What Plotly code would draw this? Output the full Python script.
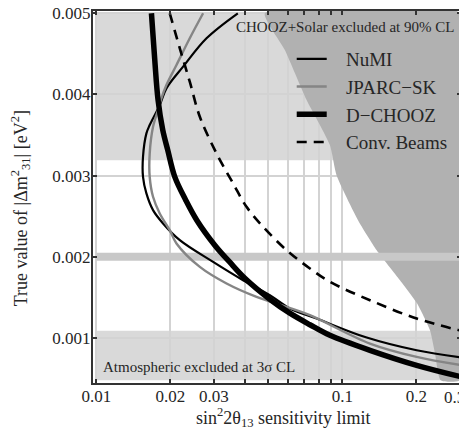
import math
import plotly.graph_objects as go

# ---------------- data ----------------
numi_x = [0.03757, 0.02803, 0.02251, 0.01926, 0.01809, 0.01647, 0.01597, 0.01547, 0.01547,
          0.01597, 0.01699, 0.01866, 0.02183, 0.02981, 0.03947, 0.05070, 0.06114, 0.07852,
          0.1255, 0.2004, 0.3063]
numi_y = [0.005, 0.004692, 0.004342, 0.004075, 0.003869, 0.003623, 0.003520, 0.003232, 0.002985,
          0.002781, 0.002575, 0.002411, 0.002205, 0.001937, 0.001711, 0.001527, 0.001363, 0.001239,
          0.001005, 0.000848, 0.000758]

jparc_x = [0.02715, 0.02396, 0.02116, 0.01926, 0.01838, 0.01781, 0.01699, 0.01647, 0.01647,
           0.01699, 0.01809, 0.01987, 0.02116, 0.02633, 0.03381, 0.04477, 0.05929, 0.07376,
           0.1294, 0.2004, 0.3063]
jparc_y = [0.005, 0.004692, 0.004363, 0.004116, 0.003952, 0.003808, 0.003602, 0.003274, 0.002985,
           0.002739, 0.002534, 0.002328, 0.002164, 0.001875, 0.001671, 0.001506, 0.001382, 0.00128,
           0.000931, 0.000766, 0.000663]

dchooz_x = [0.01674, 0.01727, 0.01781, 0.01861, 0.01950, 0.02083, 0.02308, 0.02559, 0.03029,
            0.03486, 0.04012, 0.05070, 0.06114, 0.07376, 0.08895, 0.1294, 0.2004, 0.3063]
dchooz_y = [0.005, 0.004424, 0.003931, 0.003561, 0.003314, 0.002985, 0.002698, 0.002451, 0.002143,
            0.001933, 0.001736, 0.001477, 0.001305, 0.001163, 0.001033, 0.000848, 0.000663, 0.000519]

conv_x = [0.01987, 0.02183, 0.02396, 0.02633, 0.03077, 0.03595, 0.04076, 0.04762, 0.05929,
          0.07376, 0.08895, 0.1294, 0.2004, 0.3063]
conv_y = [0.005, 0.004568, 0.004157, 0.003725, 0.003274, 0.002904, 0.002615, 0.002369, 0.002081,
          0.001856, 0.001691, 0.001465, 0.001239, 0.001086]

# CHOOZ+Solar excluded region (boundary, then right edge)
chooz_solar_x = [0.04839, 0.05835, 0.07153, 0.08895, 0.09471, 0.1157, 0.1378, 0.1714, 0.2010,
                 0.2270, 0.2379, 0.2508, 0.3, 0.3, 0.04839]
chooz_solar_y = [0.005, 0.004547, 0.003931, 0.003376, 0.003, 0.002451, 0.002081, 0.001711, 0.001428,
                 0.001095, 0.000808, 0.00048, 0.00048, 0.005, 0.005]

# shaded bands: [x0, x1, y0, y1]
upper_band = [0.01, 0.3, 0.00319, 0.005]
atmos_band = [0.01, 0.3, 0.00048, 0.00109]
mid_band_x = [0.01, 0.3]
mid_band_y = [0.002, 0.002]

x_tickvals = [0.01, 0.02, 0.03, 0.1, 0.2]
x_ticktext = ['0.01', '0.02', '0.03', '0.1', '0.2']
x_edge_tick = 0.3          # last decade tick, its label is drawn nudged inside the page
x_edge_text = '0.3'
x_minor_vals = [0.04, 0.05, 0.06, 0.07, 0.08, 0.09, 0.3]
y_tickvals = [0.001, 0.002, 0.003, 0.004, 0.005]
y_ticktext = ['0.001', '0.002', '0.003', '0.004', '0.005']

SERIF = 'Liberation Serif'
INK = '#262626'
NB = '\u00a0' * 3

fig = go.Figure()

fig.add_trace(go.Scatter(x=chooz_solar_x, y=chooz_solar_y, mode='lines', fill='toself',
                         fillcolor='#b1b1b1', line=dict(width=0, color='#b1b1b1', shape='spline',
                                                        smoothing=0.5),
                         showlegend=False, hoverinfo='skip'))
fig.add_trace(go.Scatter(x=mid_band_x, y=mid_band_y, mode='lines',
                         line=dict(color='#c8c8c8', width=8),
                         showlegend=False, hoverinfo='skip'))

spl = dict(shape='spline', smoothing=1.0)
fig.add_trace(go.Scatter(x=numi_x, y=numi_y, mode='lines', name=NB + 'NuMI',
                         line=dict(color='black', width=2.2, **spl)))
fig.add_trace(go.Scatter(x=jparc_x, y=jparc_y, mode='lines', name=NB + 'JPARC\u2212SK',
                         line=dict(color='#858585', width=2.4, **spl)))
fig.add_trace(go.Scatter(x=dchooz_x, y=dchooz_y, mode='lines', name=NB + 'D\u2212CHOOZ',
                         line=dict(color='black', width=5.5, **spl)))
fig.add_trace(go.Scatter(x=conv_x, y=conv_y, mode='lines', name=NB + 'Conv. Beams',
                         line=dict(color='black', width=2.6, dash='10px,7px', **spl)))

for b in (upper_band, atmos_band):
    fig.add_shape(type='rect', xref='x', yref='y', x0=b[0], x1=b[1], y0=b[2], y1=b[3],
                  fillcolor='#d9d9d9', line=dict(width=0), layer='below')

axis_common = dict(
    showline=True, linewidth=2, linecolor='#333333', mirror='allticks',
    ticks='inside', ticklen=4, tickwidth=1.5, tickcolor='#333333',
    showgrid=True, gridcolor='#d3d3d3', gridwidth=2, zeroline=False,
    tickfont=dict(family=SERIF, size=17, color=INK), automargin=False,
    ticklabeloverflow='allow',
)

fig.update_xaxes(type='log', range=[-2.0138, -0.518], tickvals=x_tickvals, ticktext=x_ticktext,
                 minor=dict(tickvals=x_minor_vals, ticks='inside', ticklen=4, tickwidth=1.5,
                            tickcolor='#333333', showgrid=True, gridcolor='#d3d3d3', gridwidth=2),
                 ticklabelstandoff=-3, **axis_common)
fig.update_yaxes(range=[0.000445, 0.005028], tickvals=y_tickvals, ticktext=y_ticktext,
                 ticklabelstandoff=-3, **axis_common)

# label of the last x tick, nudged left so it stays on the page
fig.add_annotation(x=math.log10(x_edge_tick) - 0.02, y=-0.0403, xref='x', yref='paper',
                   xanchor='center', yanchor='middle', text=x_edge_text, showarrow=False,
                   font=dict(family=SERIF, size=17, color=INK))

# axis titles
fig.add_annotation(x=0.519, y=-0.094, xref='paper', yref='paper', xanchor='center', yanchor='middle',
                   text='sin<sup>2</sup>2θ<sub>13</sub> sensitivity limit', showarrow=False,
                   font=dict(family=SERIF, size=18, color=INK))
fig.add_annotation(x=-0.198, y=0.47, xref='paper', yref='paper', xanchor='center', yanchor='middle',
                   textangle=-90,
                   text='True value of |Δm<sup>2</sup><sub>31</sub>| [eV<sup>2</sup>]', showarrow=False,
                   font=dict(family=SERIF, size=18, color=INK))

fig.add_annotation(x=-0.5382, y=0.004831, xref='x', yref='y', xanchor='right', yanchor='middle',
                   text='CHOOZ+Solar excluded at 90% CL', showarrow=False,
                   font=dict(family=SERIF, size=15, color=INK))
fig.add_annotation(x=-1.982, y=0.00064, xref='x', yref='y', xanchor='left', yanchor='middle',
                   text='Atmospheric excluded at 3σ CL', showarrow=False,
                   font=dict(family=SERIF, size=15, color=INK))

fig.update_layout(
    width=459, height=428,
    margin=dict(l=85, r=6, t=3, b=53),
    paper_bgcolor='white', plot_bgcolor='white',
    showlegend=True,
    legend=dict(x=0.54, y=0.922, xanchor='left', yanchor='top', bgcolor='rgba(0,0,0,0)',
                font=dict(family=SERIF, size=19, color=INK), itemwidth=30,
                tracegroupgap=0),
)

fig.write_html('out.html')
